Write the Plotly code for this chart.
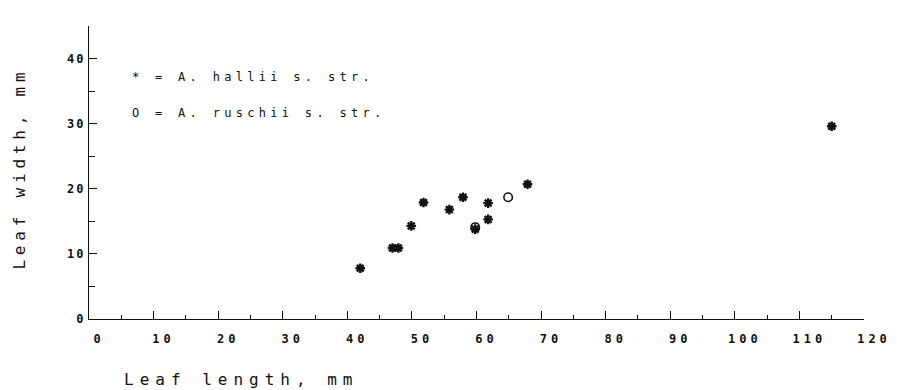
import plotly.graph_objects as go

# ---- data ----
hallii_len = [42.0, 47.0, 47.9, 49.9, 51.8, 55.8, 57.9, 59.8, 61.8, 61.8, 67.9, 115.0]
hallii_wid = [7.8, 10.9, 10.9, 14.3, 17.9, 16.8, 18.7, 13.8, 17.8, 15.3, 20.7, 29.6]
ruschii_len = [59.8, 64.9]
ruschii_wid = [14.1, 18.7]

x_ticks = [0, 10, 20, 30, 40, 50, 60, 70, 80, 90, 100, 110, 120]
x_ticklabels = ["0", "10", "20", "30", "40", "50", "60", "70", "80", "90", "100", "110", "120"]
y_ticks = [0, 10, 20, 30, 40]
y_ticklabels = ["0", "10", "20", "30", "40"]

legend_lines = ["* = A. hallii s. str.", "O = A. ruschii s. str."]
x_title = "Leaf length, mm"
y_title = "Leaf width, mm"

FONT = "DejaVu Sans Mono"
INK = "#111111"

fig = go.Figure()
fig.add_trace(go.Scatter(
    x=hallii_len, y=hallii_wid, mode="markers", name="A. hallii s. str.",
    marker=dict(symbol="asterisk-open", size=8, color=INK, line=dict(color=INK, width=2.4)),
    showlegend=False, hoverinfo="skip"))
fig.add_trace(go.Scatter(
    x=ruschii_len, y=ruschii_wid, mode="markers", name="A. ruschii s. str.",
    marker=dict(symbol="circle-open", size=8.5, color=INK, line=dict(color=INK, width=1.6)),
    showlegend=False, hoverinfo="skip"))

axis_common = dict(
    showgrid=False, zeroline=False, showline=True, linecolor=INK, linewidth=1.4,
    ticks="inside", tickcolor=INK, tickwidth=1.4, ticklen=8,
    tickfont=dict(family=FONT, size=12, color=INK, weight="bold"), automargin=False,
)
fig.update_xaxes(range=[0, 120], tickmode="array", tickvals=x_ticks, ticktext=x_ticklabels,
                 minor=dict(ticks="inside", dtick=5, ticklen=4, tickcolor=INK, tickwidth=1.4),
                 ticklabelstandoff=8, ticklabelshift=10, **axis_common)
fig.update_yaxes(range=[0, 45], tickmode="array", tickvals=y_ticks, ticktext=y_ticklabels,
                 minor=dict(ticks="inside", dtick=5, ticklen=6, tickcolor=INK, tickwidth=1.4),
                 ticklabelstandoff=0, **axis_common)

annos = []
for i, line in enumerate(legend_lines):
    annos.append(dict(text=line, xref="paper", yref="paper", x=0.053, y=[0.827, 0.704][i],
                      xanchor="left", yanchor="middle", showarrow=False, align="left",
                      font=dict(family=FONT, size=12, color=INK)))
annos.append(dict(text=x_title, xref="paper", yref="paper", x=0.197, y=-0.208,
                  xanchor="center", yanchor="middle", showarrow=False,
                  font=dict(family=FONT, size=16, color=INK)))
annos.append(dict(text=y_title, xref="paper", yref="paper", x=-0.089, y=0.512,
                  xanchor="center", yanchor="middle", showarrow=False, textangle=-90,
                  font=dict(family=FONT, size=16, color=INK)))

fig.update_layout(
    width=897, height=390,
    margin=dict(l=89, r=33, t=26, b=71, pad=0),
    paper_bgcolor="white", plot_bgcolor="white",
    annotations=annos,
)

post = """
var gd = document.getElementById('{plot_id}');
function sp(sel, v){ gd.querySelectorAll(sel).forEach(function(e){ e.style.letterSpacing = v; }); }
sp('.xtick text', '4px');
sp('.ytick text', '2px');
sp('g.annotation[data-index="0"] text', '4.3px');
sp('g.annotation[data-index="1"] text', '4.3px');
sp('g.annotation[data-index="2"] text', '6px');
sp('g.annotation[data-index="3"] text', '4.8px');
"""

fig.write_html("out.html", post_script=post)
